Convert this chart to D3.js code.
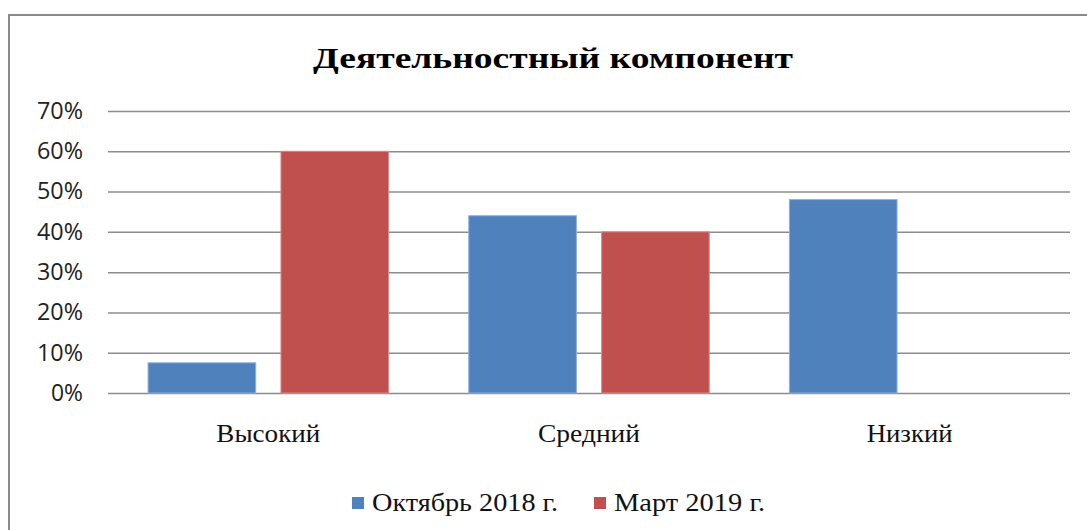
<!DOCTYPE html>
<html>
<head>
<meta charset="utf-8">
<script src="https://cdn.jsdelivr.net/npm/d3@7"></script>
<style>
  body { margin: 0; background: #fff; }
</style>
</head>
<body>
<script>
// chart data
let categories = ["Высокий", "Средний", "Низкий"];
let seriesNames = ["Октябрь 2018 г.", "Март 2019 г."];
let october = [0.075, 0.44, 0.48];
let march = [0.60, 0.40, 0];
let yTicks = [0, 0.1, 0.2, 0.3, 0.4, 0.5, 0.6, 0.7];
let colors = ["#4F81BD", "#C0504D"];

const serif = "'Liberation Serif', 'Times New Roman', serif";

function draw() {
    let width = 1087, height = 530;
    let left = 108, right = 1070, top = 111, bottom = 393;

    let svg = d3.select("body")
        .append("svg")
        .attr("width", width)
        .attr("height", height);

    // outer frame, runs off right/bottom edge like the source
    svg.append("rect")
        .attr("x", 9).attr("y", 15)
        .attr("width", 1100).attr("height", 540)
        .attr("fill", "#fff")
        .attr("stroke", "#8a8a8a")
        .attr("stroke-width", 2);

    let y = d3.scaleLinear().domain([0, 0.7]).range([bottom, top]);
    let x0 = d3.scaleBand().domain(categories).range([left, right])
        .paddingInner(0.25).paddingOuter(0.125);
    let x1 = d3.scaleBand().domain(seriesNames).range([0, x0.bandwidth()])
        .paddingInner(0.19);

    // gridlines + y labels
    let yAxis = d3.axisLeft(y)
        .tickValues(yTicks)
        .tickSize(-(right - left))
        .tickPadding(25)
        .tickFormat(d3.format(".0%"));

    let g = svg.append("g")
        .attr("transform", "translate(" + left + ",0)")
        .call(yAxis);
    g.select(".domain").remove();
    g.selectAll(".tick line")
        .attr("stroke", "#8c8c8c")
        .attr("stroke-width", 1.5);
    g.selectAll(".tick text")
        .attr("fill", "#222")
        .attr("textLength", function (d) { return d == 0 ? 32 : 46; })
        .attr("lengthAdjust", "spacingAndGlyphs")
        .style("font-family", "'Open Sans', 'Liberation Sans', sans-serif")
        .style("font-size", "23px");

    // bars
    let rows = categories.map(function (c, i) {
        return { cat: c, vals: [october[i], march[i]] };
    });

    let groups = svg.selectAll("g.grp")
        .data(rows)
        .enter()
        .append("g")
        .attr("class", "grp")
        .attr("transform", function (d) { return "translate(" + x0(d.cat) + ",0)"; });

    groups.selectAll("rect")
        .data(function (d) { return d.vals.map(function (v, j) { return { s: seriesNames[j], v: v, j: j }; }); })
        .enter()
        .append("rect")
        .filter(function (d) { return d.v > 0; })
        .attr("x", function (d) { return x1(d.s); })
        .attr("y", function (d) { return y(d.v); })
        .attr("width", x1.bandwidth())
        .attr("height", function (d) { return bottom - y(d.v); })
        .attr("fill", function (d) { return colors[d.j]; })
        .attr("stroke", function (d) { return d.j == 0 ? "#8eaedb" : "#d98b89"; })
        .attr("stroke-width", 1);

    // category labels
    let catWidths = [104, 102, 86];
    let xAxis = d3.axisBottom(x0).tickSize(0).tickPadding(31);
    let gx = svg.append("g")
        .attr("transform", "translate(0," + bottom + ")")
        .call(xAxis);
    gx.select(".domain").remove();
    gx.selectAll(".tick text")
        .attr("fill", "#111")
        .attr("textLength", function (d, i) { return catWidths[i]; })
        .attr("lengthAdjust", "spacingAndGlyphs")
        .style("font-family", serif)
        .style("font-size", "25px");

    // title
    svg.append("text")
        .attr("x", 553)
        .attr("y", 68)
        .attr("text-anchor", "middle")
        .attr("textLength", 480)
        .attr("lengthAdjust", "spacingAndGlyphs")
        .style("font-family", serif)
        .style("font-weight", "bold")
        .style("font-size", "30px")
        .attr("fill", "#000")
        .text("Деятельностный компонент");

    // legend
    let legendX = [352, 594];
    let legendW = [186, 151];
    let leg = svg.selectAll("g.leg")
        .data(seriesNames)
        .enter()
        .append("g")
        .attr("class", "leg")
        .attr("transform", function (d, i) { return "translate(" + legendX[i] + ",497)"; });
    leg.append("rect")
        .attr("width", 12).attr("height", 12)
        .attr("y", 0)
        .attr("fill", function (d, i) { return colors[i]; });
    leg.append("text")
        .attr("x", 20)
        .attr("y", 14)
        .attr("fill", "#111")
        .attr("textLength", function (d, i) { return legendW[i]; })
        .attr("lengthAdjust", "spacingAndGlyphs")
        .style("font-family", serif)
        .style("font-size", "25px")
        .text(function (d) { return d; });
}

draw();
</script>
</body>
</html>
